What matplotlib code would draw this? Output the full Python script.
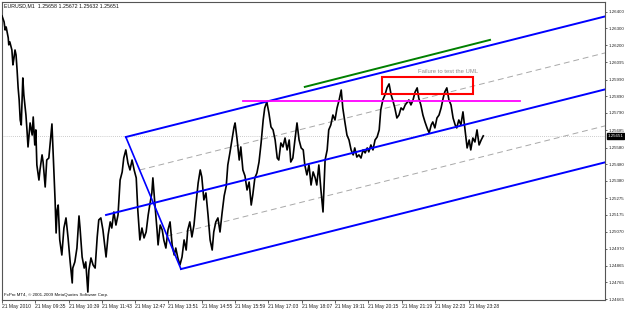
import matplotlib
matplotlib.use('Agg')
import matplotlib.pyplot as plt

plt.rcParams['font.family'] = ['Liberation Sans', 'DejaVu Sans']
plt.rcParams['axes.linewidth'] = 0.8

# EURUSD M1, 21 May 2010 - minutes since the first bar (08:31) and price
times = [0, 4, 6, 8, 12, 13, 15, 19, 21, 23, 25, 27, 29, 31, 33, 35, 37, 38, 40, 42,
         46, 48, 50, 54, 58, 60, 63, 65, 67, 71, 73, 77, 79, 83, 86, 90, 94, 96, 98, 102,
         104, 106, 108, 111, 115, 119, 123, 127, 131, 135, 136, 140, 144, 148, 150, 154, 158, 161, 165, 167,
         171, 175, 179, 183, 186, 190, 194, 200, 204, 208, 211, 215, 219, 223, 227, 231, 234, 238, 242, 246,
         250, 254, 258, 261, 265, 269, 273, 277, 281, 284, 288, 290, 294, 298, 300, 304, 308, 311, 315, 319,
         323, 327, 331, 334, 338, 342, 346, 350, 354, 357, 361, 365, 369, 373, 377, 381, 384, 388, 392, 396,
         400, 404, 407, 411, 415, 419, 423, 427, 431, 434, 438, 442, 446, 448, 452, 456, 459, 463, 467, 471,
         475, 479, 482, 486, 490, 494, 498, 502, 505, 509, 513, 517, 521, 525, 529, 532, 536, 540, 544, 548,
         552, 555, 559, 563, 567, 571, 575, 579, 582, 586, 590, 594, 598, 602, 605, 609, 613, 617, 619, 621,
         625, 628, 632, 636, 640, 644, 648, 652, 655, 659, 663, 667, 671, 675, 678, 682, 686, 690, 694, 698,
         702, 705, 709, 713, 717, 721, 725, 728, 732, 736, 740, 744, 748, 751, 755, 759, 763, 767, 771, 775,
         778, 782, 786, 790, 794, 798, 801, 805, 809, 813, 817, 821, 825, 828, 832, 836, 840, 844, 848, 851,
         855, 859, 863, 867, 871, 874, 878, 882, 886, 890, 894, 898, 901, 905, 909, 913, 917, 921, 925]
prices = [1.26376, 1.26340, 1.26291, 1.26309, 1.26243, 1.26201, 1.26219, 1.26170, 1.26080, 1.26122,
          1.26170, 1.26140, 1.26049, 1.25941, 1.25868, 1.25747, 1.25717, 1.25808, 1.26001, 1.25898,
          1.25777, 1.25687, 1.25584, 1.25729, 1.25656, 1.25765, 1.25596, 1.25687, 1.25475, 1.25384,
          1.25445, 1.25536, 1.25493, 1.25342, 1.25505, 1.25517, 1.25656, 1.25723, 1.25566, 1.25264,
          1.25064, 1.25203, 1.25233, 1.25022, 1.24931, 1.25094, 1.25155, 1.25034, 1.24889, 1.24762,
          1.24852, 1.24889, 1.24973, 1.25167, 1.25094, 1.24919, 1.24852, 1.24889, 1.24707, 1.24840,
          1.24913, 1.24871, 1.24852, 1.25040, 1.25143, 1.25155, 1.25082, 1.24919, 1.25052, 1.25131,
          1.25094, 1.25191, 1.25112, 1.25173, 1.25384, 1.25433, 1.25517, 1.25566, 1.25487, 1.25445,
          1.25505, 1.25445, 1.25397, 1.25203, 1.25022, 1.25094, 1.25034, 1.25070, 1.25173, 1.25233,
          1.25306, 1.25397, 1.25233, 1.25082, 1.24992, 1.25112, 1.25082, 1.25022, 1.24973, 1.25082,
          1.25131, 1.24992, 1.24931, 1.24973, 1.24913, 1.24871, 1.24919, 1.25022, 1.24961, 1.25082,
          1.25131, 1.25040, 1.25112, 1.25245, 1.25366, 1.25445, 1.25403, 1.25264, 1.25306, 1.25173,
          1.25022, 1.24961, 1.25070, 1.25131, 1.25155, 1.25070, 1.25185, 1.25288, 1.25348, 1.25475,
          1.25548, 1.25626, 1.25705, 1.25729, 1.25626, 1.25505, 1.25584, 1.25445, 1.25409, 1.25324,
          1.25372, 1.25233, 1.25294, 1.25397, 1.25427, 1.25493, 1.25608, 1.25747, 1.25820, 1.25856,
          1.25789, 1.25705, 1.25687, 1.25626, 1.25517, 1.25505, 1.25608, 1.25584, 1.25638, 1.25566,
          1.25626, 1.25493, 1.25517, 1.25626, 1.25729, 1.25626, 1.25578, 1.25566, 1.25475, 1.25415,
          1.25475, 1.25354, 1.25433, 1.25397, 1.25354, 1.25475, 1.25324, 1.25191, 1.25354, 1.25505,
          1.25566, 1.25687, 1.25717, 1.25777, 1.25747, 1.25820, 1.25868, 1.25928, 1.25820, 1.25735,
          1.25656, 1.25626, 1.25566, 1.25536, 1.25578, 1.25523, 1.25536, 1.25517, 1.25566, 1.25548,
          1.25578, 1.25554, 1.25596, 1.25566, 1.25626, 1.25644, 1.25687, 1.25808, 1.25868, 1.25898,
          1.25941, 1.25965, 1.25898, 1.25868, 1.25820, 1.25759, 1.25777, 1.25820, 1.25808, 1.25838,
          1.25850, 1.25868, 1.25838, 1.25868, 1.25916, 1.25941, 1.25880, 1.25838, 1.25777, 1.25735,
          1.25699, 1.25669, 1.25717, 1.25735, 1.25699, 1.25759, 1.25777, 1.25820, 1.25880, 1.25916,
          1.25941, 1.25868, 1.25838, 1.25759, 1.25717, 1.25699, 1.25747, 1.25717, 1.25796, 1.25687,
          1.25578, 1.25626, 1.25566, 1.25638, 1.25614, 1.25687, 1.25596, 1.25626, 1.25651]

# Andrews pitchfork anchors (P1 low, P2 high, P3 low)
fork_times = [200, 238, 344]
fork_prices = [1.25173, 1.25644, 1.24846]

# other drawn objects
resist_times = [463, 996]
resist_price = 1.25862
green_times = [582, 938]
green_prices = [1.25947, 1.26231]
box_times = [730, 905]
box_prices = [1.25904, 1.26007]
last_price = 1.25651

x_ticks = [0, 64, 128, 192, 256, 320, 384, 448, 512, 576, 640, 704, 768, 832, 897]
x_labels = ['21 May 2010', '21 May 09:35', '21 May 10:39', '21 May 11:43', '21 May 12:47',
            '21 May 13:51', '21 May 14:55', '21 May 15:59', '21 May 17:03', '21 May 18:07',
            '21 May 19:11', '21 May 20:15', '21 May 21:19', '21 May 22:23', '21 May 23:28']
y_ticks = [1.26400, 1.26300, 1.26200, 1.26095, 1.25990, 1.25890, 1.25790, 1.25685, 1.25580,
           1.25480, 1.25380, 1.25275, 1.25175, 1.25070, 1.24970, 1.24865, 1.24765, 1.24665]

X_END = 1159

fig = plt.figure(figsize=(6.25, 3.09), dpi=100)
ax = fig.add_axes([2 / 625, 9 / 309, 603 / 625, 298 / 309])
ax.set_xlim(0, X_END)
ax.set_ylim(1.24659, 1.26460)

# bid line
ax.axhline(last_price, color='#BBBBBB', lw=0.6, ls=(0, (1, 1.5)), zorder=1)

# price
ax.plot(times, prices, color='black', lw=1.2, zorder=3)

# pitchfork
(t1, t2, t3), (p1, p2, p3) = fork_times, fork_prices
tm, pm = (t2 + t3) / 2, (p2 + p3) / 2
slope = (pm - p1) / (tm - t1)
blue = '#0000FF'


def ray(t0, p0, **kw):
    ax.plot([t0, X_END], [p0, p0 + slope * (X_END - t0)], **kw)


ray(t1, p1, color=blue, lw=1.4, zorder=4)
ray(t2, p2, color=blue, lw=1.4, zorder=4)
ray(t3, p3, color=blue, lw=1.4, zorder=4)
ax.plot([t2, t3], [p2, p3], color=blue, lw=1.2, zorder=4)
for frac in (0.25, 0.75):
    ray(t2 + frac * (t3 - t2), p2 + frac * (p3 - p2), color='#A8A8A8', lw=0.7,
        ls=(0, (6, 4)), zorder=2)

ax.plot(resist_times, [resist_price, resist_price], color='#FF00FF', lw=1.3, zorder=4)
ax.plot(green_times, green_prices, color='#008000', lw=1.4, zorder=4)
ax.add_patch(plt.Rectangle((box_times[0], box_prices[0]), box_times[1] - box_times[0],
                           box_prices[1] - box_prices[0], fill=False, edgecolor='#FF0000',
                           lw=1.5, zorder=5))
ax.text(800, 1.26037, 'Failure to test the UML', fontsize=4.2, color='#909090',
        va='center', ha='left')

# axes styling, MT4 look
ax.yaxis.tick_right()
ax.set_yticks(y_ticks)
ax.set_yticklabels([f'{v:.5f}' for v in y_ticks])
ax.set_xticks(x_ticks)
ax.set_xticklabels(x_labels, ha='left')
ax.tick_params(axis='y', labelsize=3.2, length=1.5, width=0.5, pad=0.8, colors='#222222')
ax.tick_params(axis='x', labelsize=3.6, length=2, width=0.5, pad=1.0, colors='#222222')
for s in ax.spines.values():
    s.set_color('#555555')

ax.annotate(f'{last_price:.5f}', xy=(1.0, last_price), xycoords=('axes fraction', 'data'),
            xytext=(1.6, 0), textcoords='offset points', fontsize=3.2, color='white',
            va='center', ha='left',
            bbox=dict(boxstyle='square,pad=0.15', fc='black', ec='black'))

fig.text(4 / 625, 1 - 6 / 309, 'EURUSD,M1  1.25658 1.25672 1.25632 1.25651',
         fontsize=3.8, va='center', ha='left', color='#111111')
fig.text(4 / 625, 1 - 295 / 309, 'FxPro MT4, \u00a9 2001-2009 MetaQuotes Software Corp.',
         fontsize=3.2, va='center', ha='left', color='#111111')

fig.savefig('out.png', dpi=100, facecolor='white')
